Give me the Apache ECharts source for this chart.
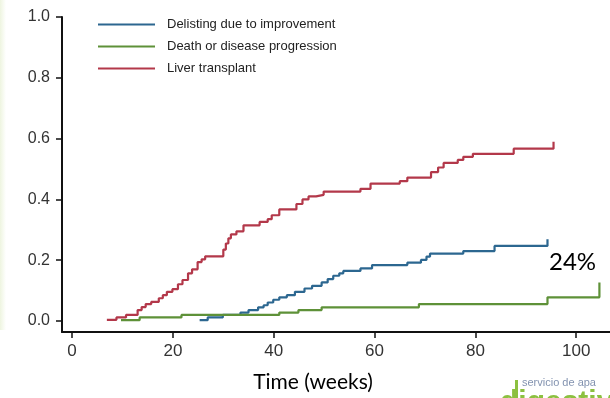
<!DOCTYPE html>
<html>
<head>
<meta charset="utf-8">
<script src="https://cdn.jsdelivr.net/npm/echarts@6/dist/echarts.min.js"></script>
<style>
html,body{margin:0;padding:0;background:#fff;}
#chart{width:610px;height:398px;}
</style>
</head>
<body>
<div id="chart"></div>
<script>
// ---- data ----
const seriesNames = ['Delisting due to improvement', 'Death or disease progression', 'Liver transplant'];
const xTicks = [0, 20, 40, 60, 80, 100];
const yTicks = [0, 0.2, 0.4, 0.6, 0.8, 1.0];

const delistTime = [25.3, 26.9, 29.9, 33.4, 35, 36.9, 38, 38.8, 39.9, 41.1, 42.6, 44.2, 46.1, 47.6, 49.5, 50.7, 51.8, 53, 53.8, 57.2, 59.5, 66.5, 69.2, 70.3, 71, 77.6, 83.8, 94.3];
const delistProb = [0.003, 0.012, 0.02, 0.028, 0.036, 0.045, 0.052, 0.061, 0.07, 0.078, 0.085, 0.096, 0.107, 0.116, 0.127, 0.138, 0.149, 0.157, 0.165, 0.173, 0.184, 0.192, 0.201, 0.212, 0.222, 0.23, 0.247, 0.269];

const deathTime = [9.7, 13.4, 21.7, 41.1, 44.9, 49.5, 68.8, 94.3, 104.6];
const deathProb = [0.003, 0.012, 0.02, 0.028, 0.036, 0.045, 0.056, 0.078, 0.127];

const liverTime = [6.9, 8.8, 10.7, 13, 13.8, 14.6, 15.7, 17.2, 18, 18.8, 19.9, 21, 21.9, 23, 23.8, 24.9, 25.7, 26.4, 30, 30.5, 31, 31.5, 32.6, 34, 37.2, 38.8, 39.6, 41.1, 44.5, 45.7, 46.9, 48.4, 49.9, 57.2, 59.2, 65, 66.5, 71.2, 72.6, 73.7, 76.5, 77.6, 79.5, 87.6, 95.5];
const liverProb = [0.004, 0.012, 0.02, 0.036, 0.046, 0.056, 0.063, 0.075, 0.085, 0.096, 0.105, 0.121, 0.135, 0.157, 0.17, 0.194, 0.203, 0.213, 0.235, 0.255, 0.272, 0.285, 0.295, 0.315, 0.326, 0.335, 0.348, 0.367, 0.385, 0.40, 0.41, 0.415, 0.426, 0.435, 0.452, 0.46, 0.472, 0.49, 0.505, 0.52, 0.53, 0.54, 0.55, 0.567, 0.59];

const annotationText = '24%';
const xTitle = 'Time (weeks)';

// ---- chart ----
function pairs(t, v) { return t.map((x, i) => [x, v[i]]); }
const colors = ['#2c6790', '#5e9138', '#b3384a'];

const chart = echarts.init(document.getElementById('chart'), null, {renderer: 'canvas'});
const mk = (name, t, v, c) => ({
  name: name, type: 'line', step: 'end', data: pairs(t, v),
  showSymbol: false, symbol: 'none', animation: false,
  lineStyle: {color: c, width: 2.2}, itemStyle: {color: c}
});

chart.setOption({
  animation: false,
  backgroundColor: '#ffffff',
  grid: {left: 62, right: 0, top: 17, bottom: 65, containLabel: false},
  legend: {
    orient: 'vertical', left: 93, top: 13, itemGap: 9,
    itemWidth: 57, itemHeight: 2, icon: 'rect',
    textStyle: {fontFamily: 'Liberation Sans, Arial, sans-serif', fontSize: 13, color: '#222', padding: [0, 0, 0, 7]},
    data: seriesNames
  },
  xAxis: {
    type: 'value', min: -2, max: 106.7,
    name: xTitle, nameLocation: 'middle', nameGap: 40,
    nameTextStyle: {fontFamily: 'Lato, sans-serif', fontSize: 21, color: '#000', padding: [0, 46, 0, 0]},
    axisLine: {show: true, onZero: false, lineStyle: {color: '#111', width: 2}},
    axisTick: {show: true, length: 6, lineStyle: {color: '#111', width: 1.5}, customValues: xTicks},
    axisLabel: {margin: 11, fontFamily: 'Liberation Sans, Arial, sans-serif', fontSize: 17, color: '#333', customValues: xTicks},
    splitLine: {show: false}
  },
  yAxis: {
    type: 'value', min: -0.036, max: 1.0,
    axisLine: {show: true, onZero: false, lineStyle: {color: '#111', width: 2}},
    axisTick: {show: true, length: 6, lineStyle: {color: '#111', width: 1.5}, customValues: yTicks},
    axisLabel: {margin: 12, fontFamily: 'Liberation Sans, Arial, sans-serif', fontSize: 16, color: '#333',
      customValues: yTicks, formatter: v => v.toFixed(1)},
    splitLine: {show: false}
  },
  series: [
    mk(seriesNames[0], delistTime, delistProb, colors[0]),
    mk(seriesNames[1], deathTime, deathProb, colors[1]),
    mk(seriesNames[2], liverTime, liverProb, colors[2])
  ],
  graphic: [
    {type: 'rect', left: 0, top: 0, z: -1, shape: {width: 6, height: 330},
      style: {fill: new echarts.graphic.LinearGradient(0, 0, 1, 0, [{offset: 0, color: '#eef5e0'}, {offset: 1, color: '#ffffff'}])}},
    {type: 'text', left: 549, top: 250, style: {text: annotationText, fontFamily: 'Lato, sans-serif', fontSize: 24, fill: '#000'}},
    {type: 'rect', left: 515, top: 380, shape: {width: 3, height: 18}, style: {fill: '#8cc040'}},
    {type: 'text', left: 522, top: 377, style: {text: 'servicio de apa', fontFamily: 'Liberation Sans, sans-serif', fontSize: 11, fill: '#8393b0'}},
    {type: 'text', left: 500, top: 388, style: {text: 'digestivo', fontFamily: 'Liberation Sans, sans-serif', fontSize: 30, fontWeight: 'bold', fill: '#8cc040'}}
  ]
});
</script>
</body>
</html>
